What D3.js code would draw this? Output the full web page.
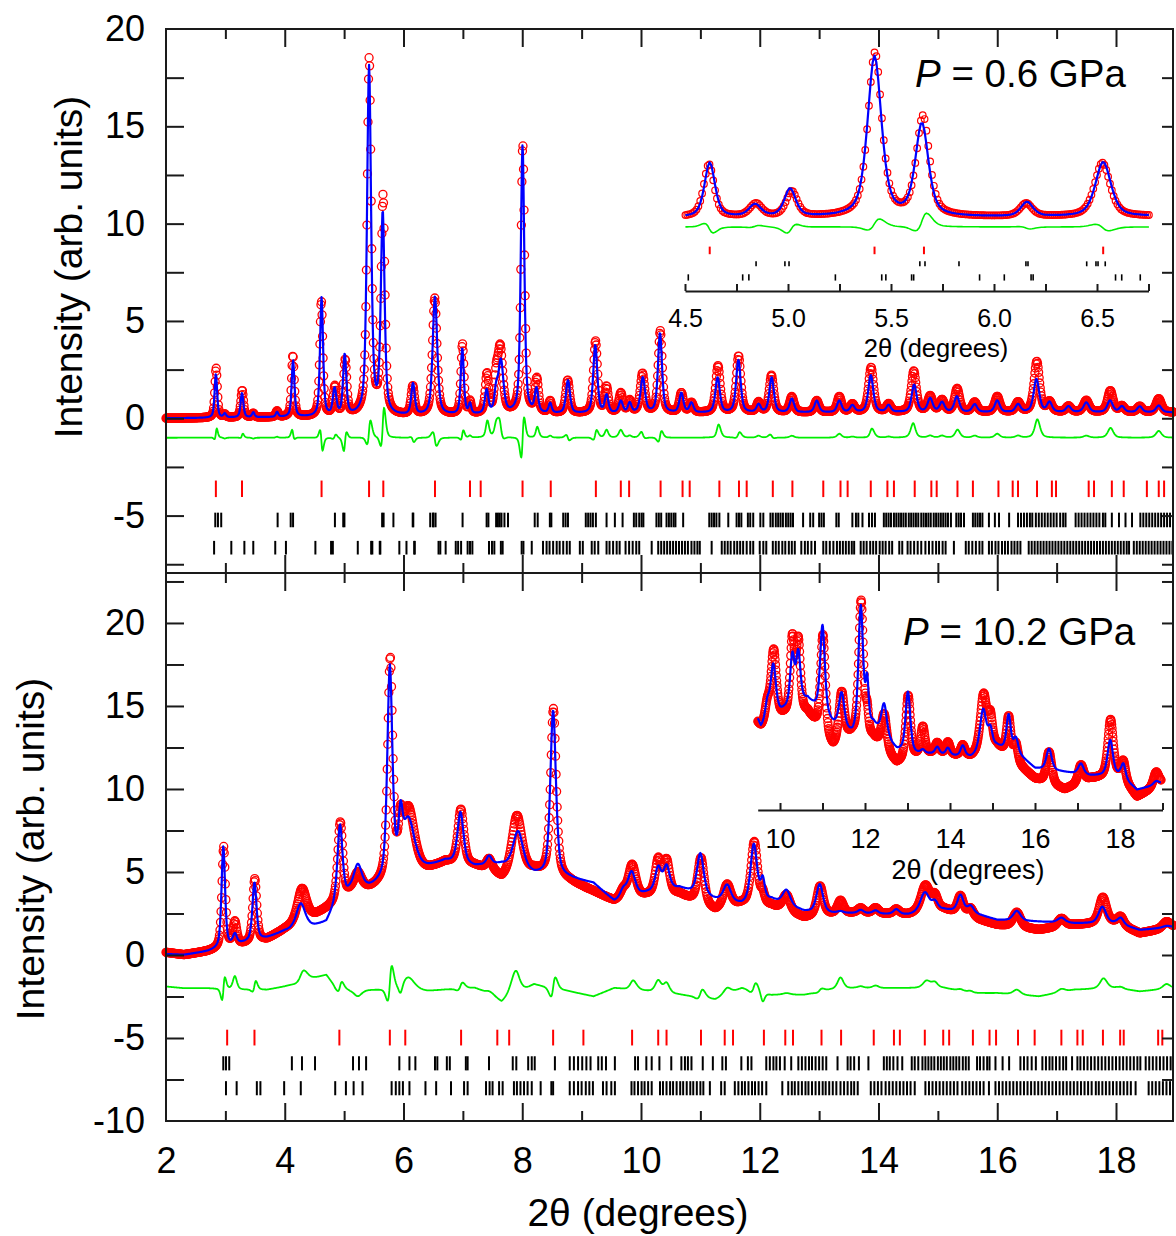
<!DOCTYPE html>
<html>
<head>
<meta charset="utf-8">
<script src="https://cdn.jsdelivr.net/npm/d3@7/dist/d3.min.js"></script>
<style>
  body { margin: 0; background: #fff; }
  svg { display: block; }
  text { font-family: "Liberation Sans", Arial, Helvetica, sans-serif; fill: #000; }
</style>
</head>
<body>
<svg id="chart" width="1176" height="1236"></svg>
<script>
// ---------- Data: 0.6 GPa pattern ----------
// Reflections fitted in the 0.6 GPa pattern: position (2θ), observed and calculated heights, FWHM,
// and the small offset of the observed peak from the refined position
const topPeakPos   = [2.84, 2.99, 3.28, 3.47, 3.87, 4.14, 4.62, 4.84, 5.01, 5.42, 5.65, 6.16, 6.53, 6.99, 7.12, 7.40, 7.56, 7.64, 8.005, 8.24, 8.47, 8.77, 9.23, 9.42, 9.66, 9.81, 10.03, 10.32, 10.68, 10.85, 11.29, 11.64, 11.98, 12.20, 12.54, 12.96, 13.34, 13.56, 13.87, 14.17, 14.60, 14.87, 15.07, 15.32, 15.62, 16.00, 16.35, 16.66, 16.88, 17.20, 17.50, 17.90, 18.10, 18.40, 18.72];
const topPeakObs   = [2.55, 0.15, 1.4, 0.2, 0.3, 3.15, 5.9, 1.45, 2.8, 18.3, 11.1, 1.45, 6.0, 3.6, 0.6, 2.0, 1.5, 3.3, 13.8, 1.7, 0.6, 1.7, 3.7, 1.3, 1.0, 0.6, 2.0, 4.2, 1.0, 0.5, 2.4, 2.9, 0.5, 1.9, 0.8, 0.6, 0.8, 0.4, 2.3, 0.4, 2.1, 0.8, 0.6, 1.2, 0.5, 0.8, 0.5, 2.6, 0.5, 0.3, 0.6, 1.1, 0.3, 0.3, 0.7];
const topPeakCalc  = [2.25, 0.2, 1.25, 0.25, 0.25, 2.9, 6.1, 1.35, 3.1, 17.9, 10.3, 1.6, 6.1, 3.4, 0.5, 1.2, 1.0, 2.7, 13.8, 1.2, 0.5, 1.7, 3.5, 0.9, 0.6, 0.5, 1.8, 4.1, 1.0, 0.5, 1.8, 2.7, 0.4, 1.8, 0.7, 0.6, 0.6, 0.35, 1.9, 0.35, 1.4, 0.7, 0.5, 0.8, 0.4, 0.6, 0.4, 1.7, 0.5, 0.3, 0.5, 0.6, 0.3, 0.3, 0.35];
const topPeakWidth = [0.05, 0.05, 0.055, 0.05, 0.05, 0.055, 0.06, 0.07, 0.065, 0.08, 0.075, 0.07, 0.09, 0.06, 0.05, 0.07, 0.07, 0.1, 0.07, 0.07, 0.06, 0.08, 0.08, 0.07, 0.08, 0.07, 0.09, 0.08, 0.08, 0.08, 0.09, 0.09, 0.08, 0.09, 0.09, 0.09, 0.09, 0.09, 0.1, 0.09, 0.1, 0.1, 0.1, 0.1, 0.1, 0.1, 0.1, 0.11, 0.1, 0.1, 0.11, 0.11, 0.1, 0.1, 0.11];
const topObsShift  = [0.004, 0, 0.003, 0, 0, -0.003, -0.004, 0.004, 0.008, 0.002, 0.005, -0.004, -0.004, 0.003, 0, 0.006, 0, -0.01, 0.004, 0.005, 0, -0.005, 0.004, 0, 0, 0, -0.005, 0.004, 0, 0, 0.006, 0.003, 0, -0.003, 0, 0, 0, 0, 0.005, 0, -0.006, 0, 0, 0.004, 0, 0, 0, 0.006, 0, 0, 0, 0.004, 0, 0, 0];
// Background level of the 0.6 GPa pattern
const topBgPos = [2.0, 4.0, 6.0, 8.0, 10.0, 14.0, 19.0];
const topBgVal = [0.0, 0.05, 0.1, 0.2, 0.25, 0.3, 0.3];

// Reflection markers, 0.6 GPa (three phases)
const topPhase1 = [2.84, 3.28, 4.62, 5.42, 5.66, 6.53, 7.12, 7.30, 8.005, 8.48, 9.24, 9.66, 9.80, 10.33, 10.70, 10.82, 11.32, 11.65, 11.78, 12.22, 12.55, 13.07, 13.36, 13.48, 13.87, 14.15, 14.26, 14.61, 14.89, 14.98, 15.33, 15.59, 16.02, 16.26, 16.35, 16.67, 16.92, 16.99, 17.54, 17.63, 17.93, 18.13, 18.52, 18.72, 18.81];
const topPhase2 = [2.83, 2.875, 2.93, 3.88, 4.10, 4.14, 4.845, 4.985, 5.005, 5.64, 5.665, 5.83, 6.155, 6.165, 6.45, 6.495, 6.505, 6.54, 6.995, 7.40, 7.43, 7.56, 7.59, 7.62, 7.65, 7.70, 7.76, 8.21, 8.26, 8.465, 8.49, 8.69, 8.73, 8.77, 9.07, 9.11, 9.15, 9.19, 9.24, 9.42, 9.56, 9.69, 9.88, 9.92, 9.97, 10.01, 10.04, 10.26, 10.30, 10.34, 10.43, 10.47, 10.51, 10.55, 10.58, 10.71, 11.15, 11.19, 11.23, 11.27, 11.32, 11.47, 11.61, 11.65, 11.69, 11.80, 11.84, 11.89, 12.01, 12.06, 12.18, 12.22, 12.27, 12.31, 12.35, 12.39, 12.44, 12.48, 12.52, 12.56, 12.73, 12.85, 12.90, 13.00, 13.04, 13.08, 13.29, 13.33, 13.56, 13.62, 13.66, 13.73, 13.84, 13.89, 13.94, 14.09, 14.13, 14.17, 14.21, 14.26, 14.30, 14.34, 14.38, 14.42, 14.46, 14.51, 14.55, 14.59, 14.63, 14.67, 14.72, 14.76, 14.80, 14.84, 14.88, 14.93, 14.97, 15.01, 15.05, 15.09, 15.13, 15.17, 15.22, 15.31, 15.35, 15.39, 15.44, 15.59, 15.63, 15.67, 15.71, 15.75, 15.86, 15.96, 16.03, 16.20, 16.35, 16.40, 16.45, 16.50, 16.55, 16.59, 16.65, 16.70, 16.75, 16.80, 16.85, 16.90, 16.95, 17.00, 17.06, 17.11, 17.15, 17.32, 17.37, 17.42, 17.47, 17.52, 17.57, 17.62, 17.67, 17.72, 17.78, 17.82, 17.93, 18.05, 18.16, 18.27, 18.41, 18.46, 18.51, 18.56, 18.61, 18.66, 18.71, 18.76, 18.81, 18.86, 18.91];
const topPhase3 = [2.81, 3.10, 3.32, 3.47, 3.84, 4.02, 4.516, 4.78, 4.81, 5.23, 5.455, 5.475, 5.60, 5.61, 5.93, 6.05, 6.18, 6.19, 6.59, 6.62, 6.71, 6.88, 6.92, 6.97, 7.08, 7.12, 7.16, 7.44, 7.49, 7.53, 7.64, 7.67, 7.99, 8.02, 8.16, 8.35, 8.41, 8.46, 8.52, 8.58, 8.63, 8.69, 8.75, 8.80, 8.97, 9.02, 9.17, 9.22, 9.28, 9.42, 9.47, 9.53, 9.59, 9.64, 9.74, 9.80, 9.86, 9.92, 9.97, 10.18, 10.29, 10.34, 10.39, 10.44, 10.49, 10.54, 10.59, 10.64, 10.69, 10.74, 10.79, 10.85, 10.90, 10.95, 10.99, 11.19, 11.36, 11.41, 11.46, 11.51, 11.57, 11.62, 11.67, 11.72, 11.78, 11.84, 11.89, 12.00, 12.06, 12.11, 12.22, 12.27, 12.32, 12.38, 12.43, 12.49, 12.54, 12.59, 12.70, 12.76, 12.81, 12.87, 12.93, 13.07, 13.12, 13.18, 13.24, 13.30, 13.35, 13.40, 13.45, 13.50, 13.55, 13.59, 13.70, 13.75, 13.80, 13.86, 13.91, 13.96, 14.02, 14.07, 14.12, 14.18, 14.23, 14.35, 14.40, 14.49, 14.54, 14.60, 14.66, 14.72, 14.79, 14.85, 14.91, 14.97, 15.02, 15.08, 15.13, 15.27, 15.47, 15.52, 15.58, 15.64, 15.70, 15.75, 15.86, 15.91, 15.97, 16.02, 16.08, 16.13, 16.18, 16.24, 16.29, 16.34, 16.39, 16.53, 16.58, 16.63, 16.68, 16.73, 16.78, 16.83, 16.88, 16.93, 16.98, 17.03, 17.08, 17.13, 17.18, 17.23, 17.28, 17.33, 17.38, 17.43, 17.48, 17.53, 17.58, 17.63, 17.68, 17.73, 17.78, 17.83, 17.88, 17.93, 17.98, 18.03, 18.08, 18.13, 18.18, 18.22, 18.30, 18.35, 18.40, 18.45, 18.50, 18.55, 18.60, 18.65, 18.70, 18.75, 18.80, 18.85, 18.90, 18.95];

// ---------- Data: 10.2 GPa pattern ----------
const botPeakPos   = [2.965, 3.16, 3.49, 4.27, 4.93, 5.23, 5.77, 5.95, 6.08, 6.96, 7.44, 7.93, 8.52, 9.70, 9.84, 10.29, 10.43, 11.00, 11.45, 11.90, 12.05, 12.45, 13.01, 13.36, 13.70, 13.95, 14.30, 14.78, 14.95, 15.38, 15.55, 16.33, 17.08, 17.77, 18.08, 18.85];
const botPeakObs   = [6.1, 1.4, 3.8, 2.0, 4.7, 1.1, 13.2, 2.0, 4.0, 3.3, 0.6, 3.6, 10.1, 0.5, 2.0, 2.1, 2.0, 2.8, 1.4, 3.8, 0.6, 1.0, 1.8, 0.8, 0.3, 0.35, 0.3, 1.6, 0.8, 1.1, 0.5, 0.9, 0.5, 1.6, 0.5, 0.4];
const botPeakCalc  = [6.1, 0.6, 3.5, 1.5, 4.6, 1.5, 12.7, 2.6, 3.2, 3.1, 0.5, 2.3, 10.0, 0.5, 1.5, 1.4, 1.4, 2.5, 1.0, 3.5, 1.2, 0.9, 1.7, 0.1, 0.2, 0.2, 0.3, 1.2, 0.5, 1.0, 0.4, 0.6, 0.3, 1.0, 0.4, 0.1];
const botPeakWidth = [0.07, 0.08, 0.08, 0.18, 0.1, 0.16, 0.1, 0.08, 0.25, 0.12, 0.1, 0.2, 0.11, 0.12, 0.15, 0.12, 0.12, 0.13, 0.15, 0.13, 0.08, 0.15, 0.13, 0.12, 0.12, 0.12, 0.12, 0.18, 0.12, 0.12, 0.12, 0.15, 0.15, 0.15, 0.12, 0.15];
const botObsShift  = [0.006, 0, 0.005, 0.02, 0.005, 0, 0.006, 0, 0, 0.006, 0, -0.02, 0.005, 0, 0.01, 0, 0, 0.01, 0, 0.008, 0, 0, 0.005, 0, 0, 0, 0, 0.01, 0, 0, 0, 0, 0, 0.008, 0, 0];
// Background of the 10.2 GPa pattern (observed and refined)
const botBgPos  = [2.0, 2.3, 2.7, 3.3, 3.7, 4.0, 4.5, 4.7, 4.85, 5.1, 5.45, 5.9, 6.4, 6.7, 7.2, 7.5, 7.65, 8.2, 8.8, 9.2, 9.55, 10.1, 10.65, 11.25, 11.7, 12.2, 12.75, 13.2, 13.6, 14.5, 15.1, 15.6, 16.0, 16.7, 17.3, 18.0, 18.4, 19.0];
const botBgObs  = [0.15, 0.0, 0.2, 0.6, 0.9, 1.5, 2.3, 2.7, 3.0, 3.6, 3.9, 4.5, 5.0, 5.5, 5.3, 5.0, 4.5, 5.0, 4.4, 3.8, 3.2, 3.5, 3.6, 2.6, 3.0, 2.9, 2.2, 2.4, 2.5, 2.4, 2.7, 2.2, 1.8, 1.5, 1.8, 1.9, 1.3, 1.7];
const botBgCalc = [0.05, 0.0, 0.2, 0.7, 1.0, 1.4, 1.7, 1.9, 2.9, 3.7, 4.0, 4.6, 5.2, 5.6, 5.3, 5.4, 5.4, 4.8, 4.6, 4.3, 3.2, 3.7, 4.0, 3.3, 3.0, 3.3, 2.6, 2.5, 2.5, 2.4, 2.7, 2.5, 2.1, 2.0, 1.9, 1.9, 1.5, 1.7];

// Reflection markers, 10.2 GPa (three phases)
const botPhase1 = [3.03, 3.49, 4.92, 5.77, 6.03, 6.97, 7.58, 7.78, 8.52, 9.03, 9.85, 10.29, 10.43, 11.01, 11.41, 11.55, 12.07, 12.43, 12.56, 13.04, 13.37, 13.92, 14.26, 14.36, 14.78, 15.09, 15.19, 15.59, 15.87, 15.98, 16.35, 16.63, 17.08, 17.35, 17.44, 17.78, 18.07, 18.13, 18.71, 18.78];
const botPhase2 = [2.965, 3.01, 3.065, 4.12, 4.29, 4.51, 5.15, 5.25, 5.37, 5.93, 6.10, 6.20, 6.53, 6.57, 6.73, 6.78, 7.05, 7.08, 7.44, 7.84, 7.90, 8.10, 8.16, 8.21, 8.55, 8.80, 8.87, 8.94, 9.01, 9.08, 9.15, 9.28, 9.34, 9.41, 9.56, 9.90, 9.95, 10.09, 10.18, 10.31, 10.51, 10.68, 10.74, 10.79, 10.85, 11.04, 11.21, 11.37, 11.43, 11.69, 11.80, 11.86, 12.11, 12.17, 12.23, 12.28, 12.34, 12.42, 12.53, 12.65, 12.71, 12.77, 12.83, 12.88, 12.94, 13.00, 13.06, 13.12, 13.31, 13.48, 13.53, 13.59, 13.67, 13.83, 14.09, 14.14, 14.19, 14.25, 14.32, 14.40, 14.56, 14.61, 14.67, 14.74, 14.79, 14.84, 14.89, 14.94, 15.00, 15.05, 15.10, 15.15, 15.21, 15.26, 15.31, 15.36, 15.42, 15.47, 15.52, 15.66, 15.71, 15.77, 15.83, 15.87, 15.97, 16.09, 16.20, 16.39, 16.45, 16.51, 16.58, 16.65, 16.76, 16.82, 16.88, 16.93, 16.99, 17.05, 17.11, 17.16, 17.26, 17.35, 17.40, 17.46, 17.52, 17.58, 17.64, 17.70, 17.76, 17.82, 17.88, 17.94, 18.00, 18.06, 18.12, 18.18, 18.24, 18.30, 18.36, 18.41, 18.50, 18.56, 18.62, 18.68, 18.74, 18.80, 18.86, 18.92];
const botPhase3 = [3.01, 3.19, 3.53, 3.59, 3.99, 4.27, 4.85, 5.03, 5.16, 5.31, 5.80, 5.87, 5.93, 5.99, 6.10, 6.37, 6.55, 6.80, 7.02, 7.08, 7.39, 7.45, 7.50, 7.61, 7.67, 7.86, 7.91, 7.97, 8.03, 8.09, 8.16, 8.31, 8.49, 8.52, 8.80, 8.87, 8.94, 9.00, 9.07, 9.13, 9.19, 9.36, 9.42, 9.50, 9.56, 9.84, 9.89, 9.95, 10.01, 10.06, 10.12, 10.18, 10.32, 10.37, 10.43, 10.49, 10.54, 10.60, 10.66, 10.71, 10.77, 10.83, 10.88, 10.94, 11.00, 11.05, 11.16, 11.35, 11.41, 11.58, 11.64, 11.70, 11.75, 11.81, 11.87, 11.92, 11.98, 12.04, 12.11, 12.38, 12.48, 12.54, 12.59, 12.65, 12.71, 12.77, 12.82, 12.88, 12.94, 13.00, 13.06, 13.11, 13.17, 13.23, 13.29, 13.36, 13.42, 13.48, 13.54, 13.59, 13.65, 13.87, 13.93, 13.99, 14.05, 14.12, 14.18, 14.24, 14.30, 14.36, 14.42, 14.48, 14.54, 14.61, 14.79, 14.85, 14.91, 14.97, 15.03, 15.09, 15.15, 15.21, 15.27, 15.33, 15.41, 15.47, 15.53, 15.59, 15.65, 15.71, 15.77, 15.86, 15.97, 16.03, 16.09, 16.15, 16.21, 16.27, 16.33, 16.39, 16.45, 16.51, 16.57, 16.63, 16.69, 16.75, 16.81, 16.87, 16.93, 16.99, 17.05, 17.11, 17.17, 17.23, 17.29, 17.35, 17.41, 17.47, 17.53, 17.59, 17.66, 17.71, 17.77, 17.83, 17.89, 17.95, 18.01, 18.07, 18.13, 18.19, 18.25, 18.33, 18.55, 18.61, 18.67, 18.73, 18.79, 18.85, 18.91, 18.96];

// ---------- Tick labels ----------
const xTickLabels      = [2, 4, 6, 8, 10, 12, 14, 16, 18];
const yTickLabelsTop   = [-5, 0, 5, 10, 15, 20];
const yTickLabelsBot   = [-10, -5, 0, 5, 10, 15, 20];
const insetTopLabels   = [4.5, 5.0, 5.5, 6.0, 6.5];
const insetBotLabels   = [10, 12, 14, 16, 18];

// ---------- Settings ----------
const STEP = 0.009;          // 2θ step of the measured points
const ETA = 0.55;            // Lorentzian fraction of the pseudo-Voigt profile
const X0 = 2.0, X1 = 18.97;
const DIFF_TOP = -1.0, DIFF_BOT = -2.0;

const svg = d3.select("#chart");
const FRAME = "#1a1a1a";

// ---------- Scales ----------
const x = d3.scaleLinear().domain([2, 18.96]).range([166, 1173]);
const yTop = d3.scaleLinear().domain([-7.95, 20]).range([573, 29]);
const yBot = d3.scaleLinear().domain([-10, 23.01]).range([1121, 573]);
const xInTop = d3.scaleLinear().domain([4.5, 6.75]).range([685, 1148.5]);
const yInTop = d3.scaleLinear().domain([0, 10]).range([218, 128.6]);
const xInBot = d3.scaleLinear().domain([9.475, 19]).range([757.7, 1162.5]);
const yInBot = d3.scaleLinear().domain([0, 10]).range([843.5, 487.5]);

// ---------- Profiles ----------
function pseudoVoigt(t, p, h, w) {
  const d = (t - p) / w;
  const g = Math.exp(-4 * Math.LN2 * d * d);
  const l = 1 / (1 + 4 * d * d);
  return h * (ETA * l + (1 - ETA) * g);
}
function buildProfile(grid, pos, shift, hts, wid, bg) {
  return grid.map(t => {
    let v = bg(t);
    for (let i = 0; i < pos.length; i++) {
      const p = pos[i] + (shift ? shift[i] : 0);
      if (Math.abs(t - p) < 40 * wid[i]) v += pseudoVoigt(t, p, hts[i], wid[i]);
    }
    return v;
  });
}
const grid = d3.range(X0, X1, STEP);

const topBg = d3.scaleLinear().domain(topBgPos).range(topBgVal).clamp(true);
const topObs = buildProfile(grid, topPeakPos, topObsShift, topPeakObs, topPeakWidth, topBg);
const topCalc = buildProfile(grid, topPeakPos, null, topPeakCalc, topPeakWidth, topBg);
const topData = grid.map((t, i) => ({ t, obs: topObs[i], calc: topCalc[i], diff: topObs[i] - topCalc[i] + DIFF_TOP }));

const botBgO = d3.scaleLinear().domain(botBgPos).range(botBgObs).clamp(true);
const botBgC = d3.scaleLinear().domain(botBgPos).range(botBgCalc).clamp(true);
const botObs = buildProfile(grid, botPeakPos, botObsShift, botPeakObs, botPeakWidth, botBgO);
const botCalc = buildProfile(grid, botPeakPos, null, botPeakCalc, botPeakWidth, botBgC);
const botData = grid.map((t, i) => ({ t, obs: botObs[i], calc: botCalc[i], diff: botObs[i] - botCalc[i] + DIFF_BOT }));

// ---------- Drawing helpers ----------
function drawCircles(g, data, xs, ys, r, sw) {
  g.append("g").selectAll("circle").data(data).join("circle")
    .attr("cx", d => xs(d.t)).attr("cy", d => ys(d.obs)).attr("r", r)
    .attr("fill", "none").attr("stroke", "#ff0000").attr("stroke-width", sw);
}
function drawLine(g, data, xs, ys, key, color, sw) {
  g.append("path").datum(data)
    .attr("fill", "none").attr("stroke", color).attr("stroke-width", sw)
    .attr("stroke-linejoin", "round")
    .attr("d", d3.line().x(d => xs(d.t)).y(d => ys(d[key])));
}
function drawMarkers(g, positions, xs, ys, v0, v1, color, sw) {
  g.append("g").selectAll("line").data(positions).join("line")
    .attr("x1", d => xs(d)).attr("x2", d => xs(d))
    .attr("y1", ys(v0)).attr("y2", ys(v1))
    .attr("stroke", color).attr("stroke-width", sw);
}
function frameTicks(axis, tx, ty) {
  const g = svg.append("g").attr("transform", `translate(${tx},${ty})`).call(axis);
  g.select(".domain").remove();
  g.selectAll(".tick line").attr("stroke", FRAME).attr("stroke-width", 2);
  g.selectAll("text").remove();
  return g;
}
const fmt = d => (d < 0 ? "-" + Math.abs(d) : String(d));

// ---------- Main panels ----------
const main = svg.append("g");

// 0.6 GPa
drawCircles(main, topData, x, yTop, 4, 1.3);
drawLine(main, topData, x, yTop, "calc", "#0000ff", 2.2);
drawLine(main, topData, x, yTop, "diff", "#00ee00", 1.8);
drawMarkers(main, topPhase1, x, yTop, -3.2, -4.05, "#ff0000", 2);
drawMarkers(main, topPhase2, x, yTop, -4.85, -5.6, "#000", 2);
drawMarkers(main, topPhase3, x, yTop, -6.3, -7.0, "#000", 2);

// 10.2 GPa
drawCircles(main, botData, x, yBot, 4, 1.3);
drawLine(main, botData, x, yBot, "calc", "#0000ff", 2.2);
drawLine(main, botData, x, yBot, "diff", "#00ee00", 1.8);
drawMarkers(main, botPhase1, x, yBot, -4.5, -5.45, "#ff0000", 2);
drawMarkers(main, botPhase2, x, yBot, -6.1, -6.95, "#000", 2);
drawMarkers(main, botPhase3, x, yBot, -7.6, -8.45, "#000", 2);

// ---------- Inset: 0.6 GPa, 4.5–6.75° ----------
const inTop = svg.append("g");
const topIn = topData.filter(d => d.t >= 4.5 && d.t <= 6.755);
drawCircles(inTop, topIn, xInTop, yInTop, 3.3, 1.2);
drawLine(inTop, topIn, xInTop, yInTop, "calc", "#0000ff", 2.2);
drawLine(inTop, topIn, xInTop, yInTop, "diff", "#00ee00", 1.6);
const inRange = a => a.filter(v => v >= 4.5 && v <= 6.75);
drawMarkers(inTop, inRange(topPhase1), xInTop, yInTop, -3.2, -4.05, "#ff0000", 2);
drawMarkers(inTop, inRange(topPhase2), xInTop, yInTop, -4.85, -5.4, "#000", 1.6);
drawMarkers(inTop, inRange(topPhase3), xInTop, yInTop, -6.3, -7.0, "#000", 1.6);
{
  const g = inTop.append("g").attr("transform", "translate(0,291)")
    .call(d3.axisTop(xInTop).tickValues(d3.range(4.5, 6.76, 0.25)).tickSize(7).tickSizeOuter(0).tickFormat(""));
  g.select(".domain").attr("stroke", FRAME).attr("stroke-width", 2);
  g.selectAll(".tick line").attr("stroke", FRAME).attr("stroke-width", 2);
  const gl = inTop.append("g").attr("transform", "translate(0,291)")
    .call(d3.axisBottom(xInTop).tickValues(insetTopLabels).tickSize(0).tickPadding(18).tickFormat(d3.format(".1f")));
  gl.select(".domain").remove();
  gl.selectAll("text").attr("font-size", 25).attr("font-family", null);
  inTop.append("text").attr("x", 936).attr("y", 357).attr("text-anchor", "middle")
    .attr("font-size", 25.5).text("2θ (degrees)");
}

// ---------- Inset: 10.2 GPa, 9.5–19° ----------
const inBot = svg.append("g");
const botIn = botData.filter(d => d.t >= 9.475);
drawCircles(inBot, botIn, xInBot, yInBot, 4, 1.3);
drawLine(inBot, botIn, xInBot, yInBot, "calc", "#0000ff", 2.2);
{
  const g = inBot.append("g").attr("transform", "translate(0,810)")
    .call(d3.axisTop(xInBot).tickValues(d3.range(10, 19.01, 1)).tickSize(7).tickSizeOuter(0).tickFormat(""));
  g.select(".domain").attr("stroke", FRAME).attr("stroke-width", 2);
  g.selectAll(".tick line").attr("stroke", FRAME).attr("stroke-width", 2);
  const gl = inBot.append("g").attr("transform", "translate(0,810)")
    .call(d3.axisBottom(xInBot).tickValues(insetBotLabels).tickSize(0).tickPadding(19).tickFormat(fmt));
  gl.select(".domain").remove();
  gl.selectAll("text").attr("font-size", 27).attr("font-family", null);
  inBot.append("text").attr("x", 968).attr("y", 879).attr("text-anchor", "middle")
    .attr("font-size", 27).text("2θ (degrees)");
}

// ---------- Frame and ticks ----------
const evenX = d3.range(4, 19, 2), oddX = d3.range(3, 19, 2);
const leftTop = d3.range(-7.5, 20, 2.5), leftBot = d3.range(-7.5, 23, 2.5);
// top edge
frameTicks(d3.axisBottom(x).tickValues(evenX).tickSize(18), 0, 29);
frameTicks(d3.axisBottom(x).tickValues(oddX).tickSize(10), 0, 29);
// divider, both sides
frameTicks(d3.axisTop(x).tickValues(evenX).tickSize(18), 0, 573);
frameTicks(d3.axisTop(x).tickValues(oddX).tickSize(10), 0, 573);
frameTicks(d3.axisBottom(x).tickValues(evenX).tickSize(18), 0, 573);
frameTicks(d3.axisBottom(x).tickValues(oddX).tickSize(10), 0, 573);
// bottom edge
frameTicks(d3.axisTop(x).tickValues(evenX).tickSize(18), 0, 1121);
frameTicks(d3.axisTop(x).tickValues(oddX).tickSize(10), 0, 1121);
// left and right edges
frameTicks(d3.axisRight(yTop).tickValues(leftTop).tickSize(18), 166, 0);
frameTicks(d3.axisLeft(yTop).tickValues(leftTop).tickSize(11), 1173, 0);
frameTicks(d3.axisRight(yBot).tickValues(leftBot).tickSize(18), 166, 0);
frameTicks(d3.axisLeft(yBot).tickValues(leftBot).tickSize(11), 1173, 0);

svg.append("rect").attr("x", 166).attr("y", 29).attr("width", 1007).attr("height", 1092)
  .attr("fill", "none").attr("stroke", FRAME).attr("stroke-width", 2);
svg.append("line").attr("x1", 166).attr("x2", 1173).attr("y1", 573).attr("y2", 573)
  .attr("stroke", FRAME).attr("stroke-width", 2);

// ---------- Tick labels ----------
function labelAxis(axis, tx, ty, size) {
  const g = svg.append("g").attr("transform", `translate(${tx},${ty})`).call(axis);
  g.select(".domain").remove();
  g.selectAll(".tick line").remove();
  g.selectAll("text").attr("font-size", size).attr("font-family", null);
  return g;
}
labelAxis(d3.axisLeft(yTop).tickValues(yTickLabelsTop).tickSize(0).tickPadding(21).tickFormat(fmt), 166, 0, 36);
labelAxis(d3.axisLeft(yBot).tickValues(yTickLabelsBot).tickSize(0).tickPadding(21).tickFormat(fmt), 166, 0, 36);
labelAxis(d3.axisBottom(x).tickValues(xTickLabels).tickSize(0).tickPadding(26).tickFormat(fmt), 0, 1121, 36);

// ---------- Axis titles ----------
svg.append("text").attr("transform", "translate(82,267) rotate(-90)")
  .attr("text-anchor", "middle").attr("font-size", 39).text("Intensity (arb. units)");
svg.append("text").attr("transform", "translate(44,849) rotate(-90)")
  .attr("text-anchor", "middle").attr("font-size", 39).text("Intensity (arb. units)");
svg.append("text").attr("x", 638).attr("y", 1226).attr("text-anchor", "middle")
  .attr("font-size", 39).text("2θ (degrees)");

// ---------- Pressure labels ----------
function pressure(xp, yp, value) {
  const t = svg.append("text").attr("x", xp).attr("y", yp).attr("font-size", 38.5);
  t.append("tspan").attr("font-style", "italic").text("P");
  t.append("tspan").text(" = " + value + " GPa");
}
pressure(915, 87, "0.6");
pressure(903, 645, "10.2");
</script>
</body>
</html>
